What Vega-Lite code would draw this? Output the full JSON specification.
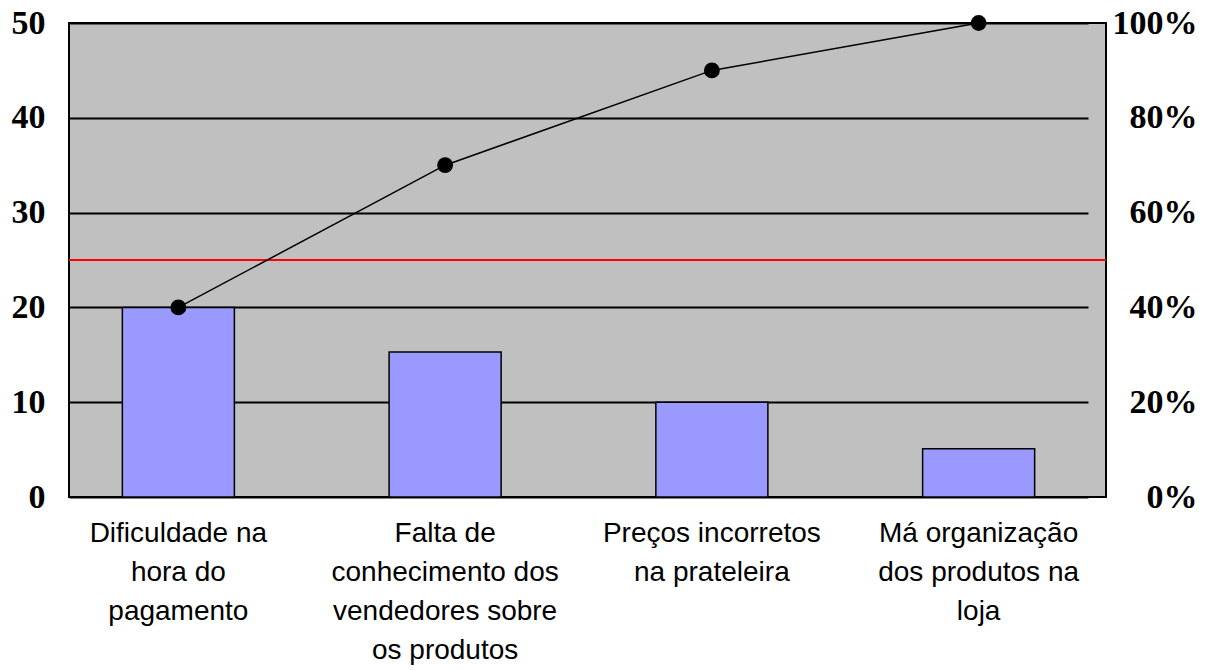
{
  "$schema": "https://vega.github.io/schema/vega-lite/v6.json",
  "width": 1037,
  "height": 474,
  "autosize": "none",
  "padding": {"left": 69, "top": 23, "right": 106, "bottom": 173},
  "background": "white",
  "config": {
    "view": {"fill": "#C0C0C0", "stroke": "black", "strokeWidth": 2}
  },
  "data": {
    "values": [
      {"causa": "Dificuldade na hora do pagamento", "ocorrencias": 20, "acumulado": 40},
      {"causa": "Falta de conhecimento dos vendedores sobre os produtos", "ocorrencias": 15.3, "acumulado": 70},
      {"causa": "Preços incorretos na prateleira", "ocorrencias": 10, "acumulado": 90},
      {"causa": "Má organização dos produtos na loja", "ocorrencias": 5.1, "acumulado": 100}
    ]
  },
  "layer": [
    {
      "layer": [
        {
          "mark": {"type": "bar", "fill": "#9999FF", "stroke": "black", "strokeWidth": 1.5},
          "encoding": {
            "x": {
              "field": "causa", "type": "nominal", "sort": null,
              "scale": {"range": [0, 1019], "paddingInner": 0.58, "paddingOuter": 0.2},
              "axis": {
                "title": null, "labelAngle": 0, "ticks": false, "domain": false,
                "labelFont": "Liberation Sans", "labelFontSize": 28, "labelColor": "black",
                "labelLineHeight": 39, "labelPadding": 22, "labelBaseline": "top", "labelLimit": 400,
                "labelExpr": "datum.value == 'Dificuldade na hora do pagamento' ? ['Dificuldade na','hora do','pagamento'] : datum.value == 'Falta de conhecimento dos vendedores sobre os produtos' ? ['Falta de','conhecimento dos','vendedores sobre','os produtos'] : datum.value == 'Preços incorretos na prateleira' ? ['Preços incorretos','na prateleira'] : ['Má organização','dos produtos na','loja']"
              }
            },
            "y": {
              "field": "ocorrencias", "type": "quantitative",
              "scale": {"domain": [0, 50], "nice": false},
              "axis": {
                "title": null, "values": [0, 10, 20, 30, 40, 50], "grid": true, "gridColor": "black", "gridWidth": 2, "gridOpacity": 1,
                "ticks": false, "domain": false, "labelFont": "Liberation Serif", "labelFontWeight": "bold",
                "labelFontSize": 34, "labelColor": "black", "labelPadding": 24, "labelFlush": false
              }
            }
          }
        },
        {
          "data": {"values": [{"limite": 25}]},
          "mark": {"type": "rule", "color": "#FF0000", "strokeWidth": 2},
          "encoding": {
            "y": {"field": "limite", "type": "quantitative", "scale": {"domain": [0, 50], "nice": false}}
          }
        }
      ]
    },
    {
      "layer": [
        {
          "mark": {"type": "line", "color": "black", "strokeWidth": 1.5},
          "encoding": {
            "x": {"field": "causa", "type": "nominal", "sort": null},
            "y": {
              "field": "acumulado", "type": "quantitative",
              "scale": {"domain": [0, 100], "nice": false},
              "axis": {
                "orient": "right", "title": null, "values": [0, 20, 40, 60, 80, 100], "grid": false,
                "ticks": false, "domain": false, "labelExpr": "datum.value + '%'",
                "labelFont": "Liberation Serif", "labelFontWeight": "bold", "labelFontSize": 34, "labelColor": "black",
                "labelAlign": "right", "labelPadding": 91, "labelFlush": false
              }
            }
          }
        },
        {
          "mark": {"type": "point", "filled": true, "color": "black", "size": 250, "opacity": 1},
          "encoding": {
            "x": {"field": "causa", "type": "nominal", "sort": null},
            "y": {"field": "acumulado", "type": "quantitative", "scale": {"domain": [0, 100], "nice": false}}
          }
        }
      ]
    }
  ],
  "resolve": {"scale": {"y": "independent"}, "axis": {"y": "independent"}}
}
